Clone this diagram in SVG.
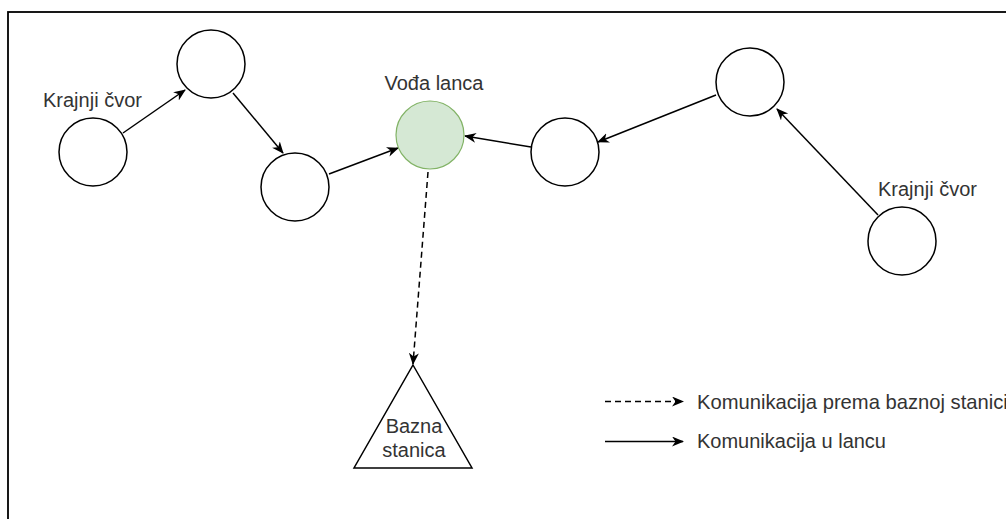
<svg xmlns="http://www.w3.org/2000/svg" width="1006" height="519" viewBox="0 0 1006 519">
  <style>
    .node { fill: #ffffff; stroke: #000000; stroke-width: 1.5; }
    .leader { fill: #d5e8d4; stroke: #82b366; stroke-width: 1.2; }
    .edge { fill: none; stroke: #000000; stroke-width: 1.5; }
    .dashed { stroke-dasharray: 6 4; }
    .lbl { font-family: "Liberation Sans", Arial, sans-serif; font-size: 20px; fill: #333333; }
  </style>
  <defs>
    <marker id="arr" markerUnits="userSpaceOnUse" markerWidth="14" markerHeight="12" refX="11" refY="5" orient="auto">
      <path d="M0,0 L12,5 L0,10 L3.5,5 Z" fill="#000000"/>
    </marker>
  </defs>
  <rect x="0" y="0" width="1006" height="519" fill="#ffffff"/>
  <rect x="8" y="12" width="1010" height="520" fill="none" stroke="#000000" stroke-width="1.8"/>

  <g id="connectors">
    <line class="edge" x1="123" y1="133" x2="185" y2="90" marker-end="url(#arr)"/>
    <line class="edge" x1="233" y1="93" x2="283" y2="153" marker-end="url(#arr)"/>
    <line class="edge" x1="329" y1="174" x2="398" y2="148" marker-end="url(#arr)"/>
    <line class="edge" x1="531" y1="147" x2="465" y2="136" marker-end="url(#arr)"/>
    <line class="edge" x1="716" y1="95" x2="598" y2="142" marker-end="url(#arr)"/>
    <line class="edge" x1="878" y1="215" x2="777" y2="109" marker-end="url(#arr)"/>
    <line class="edge dashed" x1="428" y1="172" x2="413" y2="364" marker-end="url(#arr)"/>
  </g>

  <g id="node-end-left">
    <circle class="node" cx="93" cy="152" r="34"/>
    <text class="lbl" x="43" y="107">Krajnji čvor</text>
  </g>
  <g id="node-b">
    <circle class="node" cx="211" cy="64" r="34"/>
  </g>
  <g id="node-c">
    <circle class="node" cx="295" cy="187" r="34"/>
  </g>
  <g id="node-leader">
    <circle class="leader" cx="430" cy="135" r="34"/>
    <text class="lbl" x="434" y="90" text-anchor="middle">Vođa lanca</text>
  </g>
  <g id="node-d">
    <circle class="node" cx="565" cy="152" r="34"/>
  </g>
  <g id="node-e">
    <circle class="node" cx="750" cy="82" r="34"/>
  </g>
  <g id="node-end-right">
    <circle class="node" cx="902" cy="241" r="34"/>
    <text class="lbl" x="878" y="196">Krajnji čvor</text>
  </g>
  <g id="node-base">
    <polygon class="node" points="413,365 472,468 354,468"/>
    <text class="lbl" x="414" y="433" text-anchor="middle">Bazna</text>
    <text class="lbl" x="414" y="457" text-anchor="middle">stanica</text>
  </g>

  <g id="legend">
    <line class="edge dashed" x1="605" y1="401.5" x2="683" y2="401.5" marker-end="url(#arr)"/>
    <text class="lbl" x="697" y="409" style="font-size:20.2px">Komunikacija prema baznoj stanici</text>
    <line class="edge" x1="605" y1="441.5" x2="683" y2="441.5" marker-end="url(#arr)"/>
    <text class="lbl" x="697" y="448">Komunikacija u lancu</text>
  </g>
</svg>
